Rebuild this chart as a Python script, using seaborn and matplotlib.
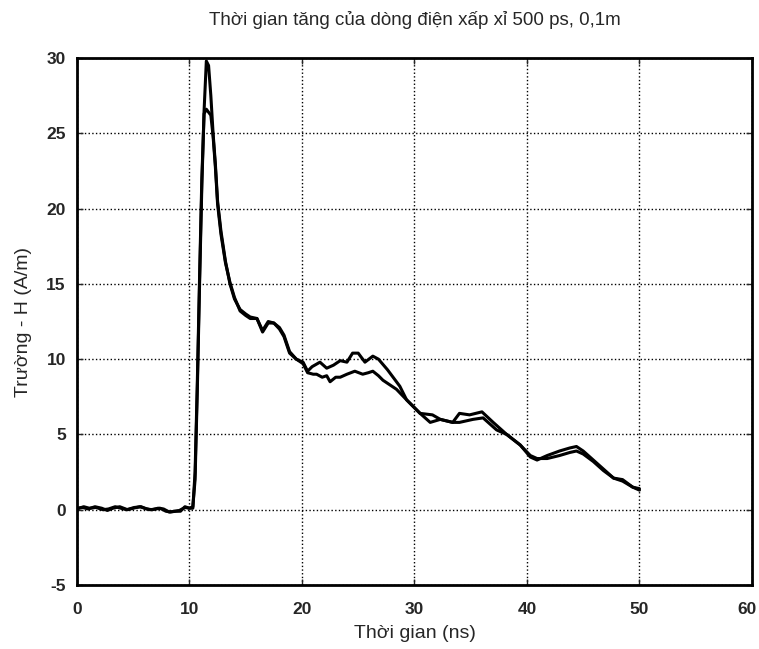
import numpy as np
import pandas as pd
import matplotlib
matplotlib.use("Agg")
import matplotlib.pyplot as plt
import matplotlib.transforms as mtransforms
import seaborn as sns

# Curve A: higher peak (~30 A/m), upper branch in the 21-29 ns and 33-37 ns bumps
time_a = [0, 0.5, 1.0, 1.6, 2.2, 2.7, 3.2, 3.8, 4.5, 5.0, 5.6, 6.0, 6.5, 7.0, 7.4,
          7.9, 8.3, 8.8, 9.2, 9.6, 10.0, 10.3, 10.5, 10.7, 10.9, 11.1, 11.3, 11.5,
          11.7, 11.9, 12.1, 12.3, 12.5, 12.8, 13.2, 13.6, 14.0, 14.5, 15.0, 15.4,
          16.0, 16.5, 17.0, 17.5, 18.0, 18.4, 18.9, 19.5, 20.1, 20.5, 20.9, 21.6,
          22.2, 22.8, 23.4, 24.0, 24.5, 25.0, 25.6, 26.3, 26.8, 27.6, 28.7, 29.3,
          30.5, 31.6, 32.3, 33.4, 34.0, 34.9, 36.0, 37.0, 38.2, 39.4, 40.3, 40.9,
          41.8, 42.9, 43.8, 44.4, 45.0, 45.9, 46.8, 47.7, 48.5, 49.4, 50.0]
field_a = [0.1, 0.15, 0.05, 0.2, 0.1, -0.05, 0.1, 0.2, 0.0, 0.1, 0.2, 0.1, 0.0, 0.05, 0.1,
           -0.1, -0.15, -0.1, -0.1, 0.2, 0.1, 0.2, 2.0, 8.0, 15.0, 21.5, 26.5, 29.8,
           29.5, 27.5, 25.0, 23.0, 20.5, 18.5, 16.5, 15.0, 14.0, 13.3, 13.0, 12.8,
           12.7, 11.9, 12.5, 12.4, 12.1, 11.6, 10.5, 10.0, 9.8, 9.2, 9.5, 9.8,
           9.4, 9.6, 9.9, 9.8, 10.4, 10.4, 9.8, 10.2, 10.0, 9.3, 8.2, 7.3,
           6.4, 6.3, 6.0, 5.8, 6.4, 6.3, 6.5, 5.8, 5.0, 4.3, 3.5, 3.3,
           3.6, 3.9, 4.1, 4.2, 3.9, 3.3, 2.7, 2.1, 2.0, 1.5, 1.3]

# Curve B: flat-topped peak (~26.5 A/m), lower branch in the bumps
time_b = [0, 0.6, 1.1, 1.7, 2.3, 2.8, 3.4, 3.9, 4.4, 5.1, 5.7, 6.2, 6.7, 7.2, 7.7,
          8.2, 8.7, 9.1, 9.6, 10.0, 10.3, 10.5, 10.7, 10.9, 11.1, 11.3, 11.5, 11.7,
          11.9, 12.1, 12.3, 12.5, 12.8, 13.2, 13.6, 14.0, 14.5, 15.0, 15.4, 16.0,
          16.5, 17.0, 17.5, 18.0, 18.4, 18.9, 19.5, 20.1, 20.5, 21.0, 21.3, 21.8,
          22.2, 22.5, 23.0, 23.4, 24.0, 24.7, 25.4, 25.9, 26.3, 26.8, 27.2, 27.8,
          28.4, 29.3, 30.5, 31.4, 32.3, 33.4, 34.0, 35.2, 36.1, 37.3, 38.2, 39.4,
          40.3, 40.9, 41.8, 42.9, 43.8, 44.4, 45.0, 45.9, 46.8, 47.7, 48.5, 49.4, 50.0]
field_b = [0.05, 0.2, 0.1, 0.15, 0.0, 0.05, 0.2, 0.1, 0.0, 0.15, 0.2, 0.05, 0.0, 0.1, 0.05,
           -0.15, -0.1, -0.05, 0.15, 0.1, 0.1, 2.5, 8.5, 15.5, 22.0, 26.3, 26.6, 26.4,
           26.2, 24.8, 22.8, 20.3, 18.3, 16.4, 15.1, 14.1, 13.2, 12.9, 12.7, 12.7,
           11.8, 12.4, 12.4, 12.0, 11.5, 10.4, 10.0, 9.7, 9.1, 9.0, 9.0, 8.8,
           8.9, 8.5, 8.8, 8.8, 9.0, 9.2, 9.0, 9.1, 9.2, 8.9, 8.6, 8.3,
           8.0, 7.3, 6.4, 5.8, 6.0, 5.8, 5.8, 6.0, 6.1, 5.3, 5.0, 4.3,
           3.6, 3.4, 3.4, 3.6, 3.8, 3.9, 3.7, 3.2, 2.6, 2.1, 1.9, 1.5, 1.4]

x_ticks = [0, 10, 20, 30, 40, 50, 60]
y_ticks = [-5, 0, 5, 10, 15, 20, 25, 30]

df = pd.concat([
    pd.DataFrame({"t": time_a, "h": field_a, "curve": "A"}),
    pd.DataFrame({"t": time_b, "h": field_b, "curve": "B"}),
], ignore_index=True)

sns.set_style("ticks")
plt.rcParams["font.family"] = ["Liberation Sans", "DejaVu Sans"]

fig = plt.figure(figsize=(7.59, 6.49), dpi=100)
ax = fig.add_axes([0.1014, 0.0986, 0.8893, 0.812])

sns.lineplot(data=df, x="t", y="h", hue="curve", palette=["black", "black"],
             linewidth=2.2, sort=False, estimator=None, legend=False, ax=ax)

ax.set_xlim(0, 60)
ax.set_ylim(-5, 30)
ax.set_xticks(x_ticks)
ax.set_yticks(y_ticks)
ax.set_xticklabels([str(v) for v in x_ticks], fontweight="bold", fontsize=12.5)
ax.set_yticklabels([str(v) for v in y_ticks], fontweight="bold", fontsize=12.5)
ax.tick_params(axis="x", direction="in", length=4, width=1, top=True, pad=12)
ax.tick_params(axis="y", direction="in", length=4, width=1, right=True, pad=8)
ax.grid(True, linestyle=":", color="black", linewidth=1.0)
for s in ax.spines.values():
    s.set_linewidth(2)
    s.set_color("black")

# last x label sits against the right edge, like the scan; keep it inside the figure
last = ax.get_xticklabels()[-1]
last.set_ha("right")
last.set_transform(last.get_transform() + mtransforms.ScaledTranslation(5 / 100, 0, fig.dpi_scale_trans))

ax.set_xlabel("Thời gian (ns)", fontsize=14, labelpad=6)
ax.set_ylabel("Trường - H (A/m)", fontsize=14, labelpad=10)
ax.set_title("Thời gian tăng của dòng điện xấp xỉ 500 ps, 0,1m", fontsize=13.5, pad=24)

fig.savefig("out.png", dpi=100)
